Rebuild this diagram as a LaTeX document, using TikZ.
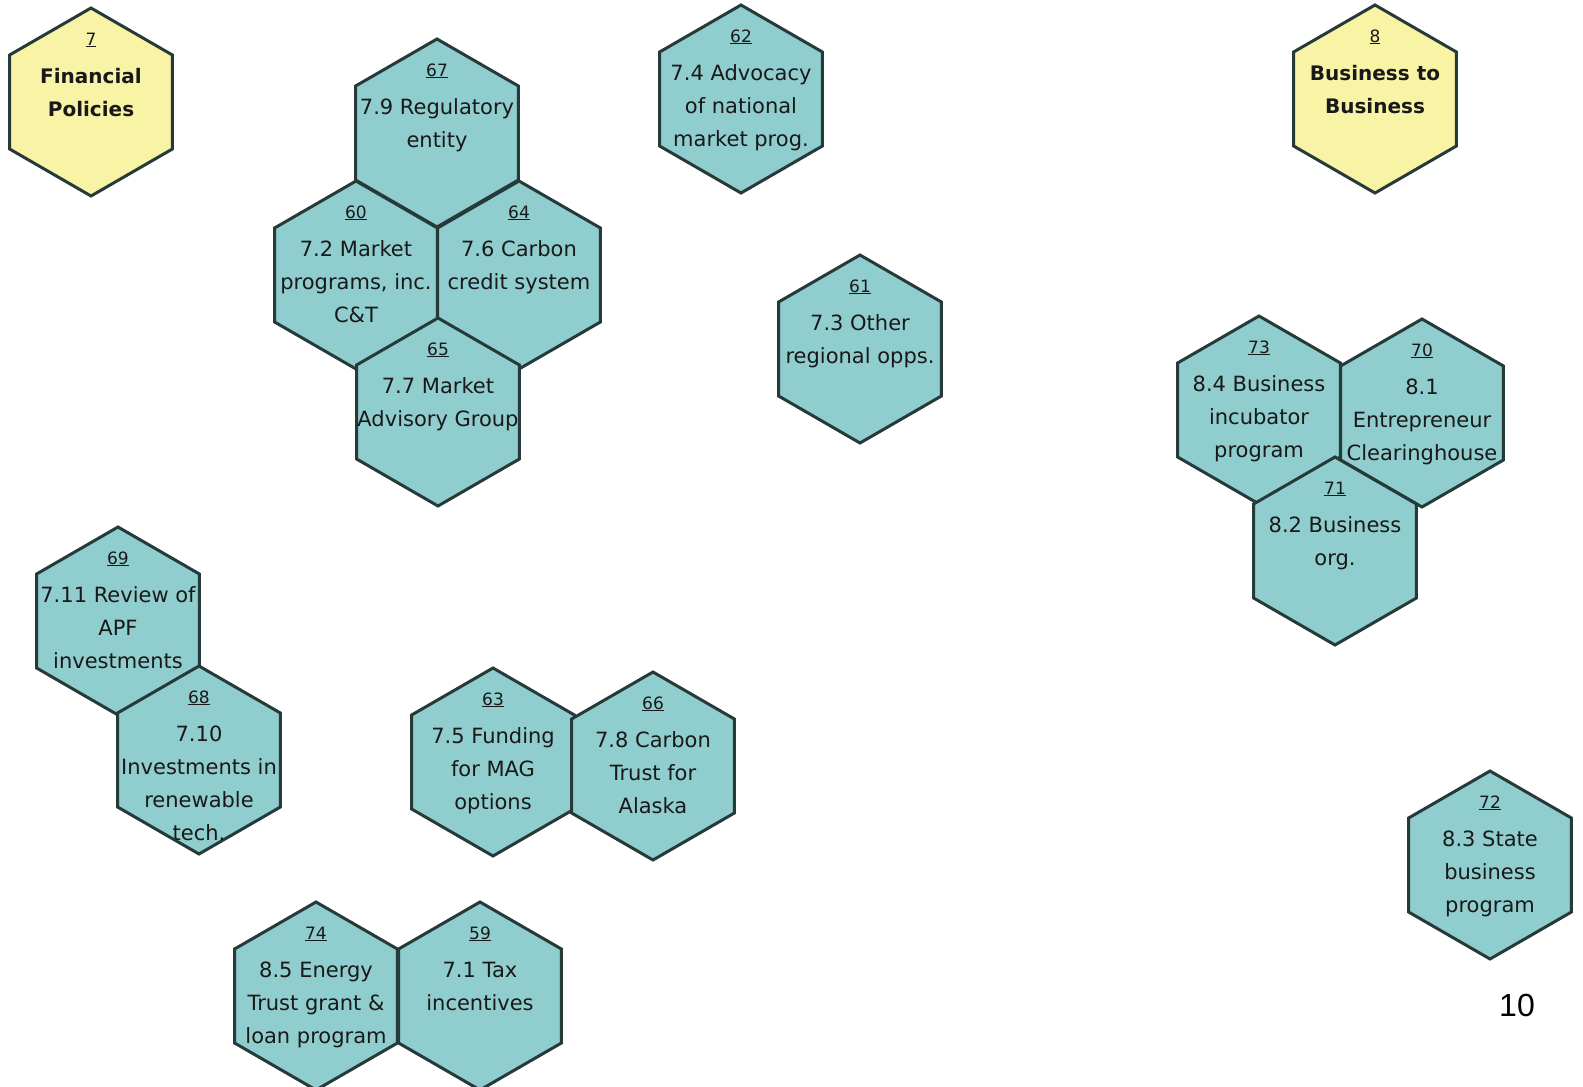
\documentclass[tikz,border=0pt]{standalone}
\usepackage{fontspec}
\setmainfont{DejaVu Sans}
\newfontfamily\arialfont{Liberation Sans}
\definecolor{hexteal}{RGB}{144,205,206}
\definecolor{hexyellow}{RGB}{248,243,165}
\definecolor{hexborder}{RGB}{38,58,58}
\definecolor{hextextcol}{RGB}{25,25,25}
\tikzset{
  hexedge/.style={draw=hexborder, line width=3pt, line join=miter},
  tealcell/.style={fill=hexteal},
  yellowcell/.style={fill=hexyellow},
  numtxt/.style={anchor=base, inner sep=0pt, text=hextextcol, font=\fontsize{17}{20}\selectfont},
  bodytxt/.style={anchor=north, inner sep=0pt, align=center, text=hextextcol, font=\fontsize{21}{33}\selectfont},
  boldtxt/.style={bodytxt, font=\fontsize{20}{33}\selectfont\bfseries},
  pagenum/.style={inner sep=0pt, font=\arialfont\fontsize{32}{36}\selectfont}
}
\newcommand{\hexshape}[3]{% x, y, fill style
  \path[hexedge,#3] (#1,#2) +(90:94) -- +(150:94) -- +(210:94) -- +(270:94) -- +(330:94) -- +(30:94) -- cycle;
}
\newcommand{\hexlabel}[6]{% name, x, y, text style, number, text
  \node[numtxt] (#1-n) at (#2,#3-57) {\underline{#5}};
  \node[#4] (#1) at (#2,#3-42) {\strut #6};
}
\begin{document}
\begin{tikzpicture}[x=1pt,y=-1pt]
\useasboundingbox[fill=white] (0,0) rectangle (1583,1087);
% shapes
\hexshape{91}{102}{yellowcell}
\hexshape{741}{99}{tealcell}
\hexshape{1375}{99}{yellowcell}
\hexshape{437}{133}{tealcell}
\hexshape{356}{275}{tealcell}
\hexshape{519}{275}{tealcell}
\hexshape{438}{412}{tealcell}
\hexshape{860}{349}{tealcell}
\hexshape{1259}{410}{tealcell}
\hexshape{1422}{413}{tealcell}
\hexshape{1335}{551}{tealcell}
\hexshape{118}{621}{tealcell}
\hexshape{199}{760}{tealcell}
\hexshape{493}{762}{tealcell}
\hexshape{653}{766}{tealcell}
\hexshape{1490}{865}{tealcell}
\hexshape{316}{996}{tealcell}
\hexshape{480}{996}{tealcell}
% labels
\hexlabel{h7}{91}{102}{boldtxt}{7}{Financial\\Policies}
\hexlabel{h62}{741}{99}{bodytxt}{62}{7.4 Advocacy\\of national\\market prog.}
\hexlabel{h8}{1375}{99}{boldtxt}{8}{Business to\\Business}
\hexlabel{h67}{437}{133}{bodytxt}{67}{7.9 Regulatory\\entity}
\hexlabel{h60}{356}{275}{bodytxt}{60}{7.2 Market\\programs, inc.\\C\&T}
\hexlabel{h64}{519}{275}{bodytxt}{64}{7.6 Carbon\\credit system}
\hexlabel{h65}{438}{412}{bodytxt}{65}{7.7 Market\\Advisory Group}
\hexlabel{h61}{860}{349}{bodytxt}{61}{7.3 Other\\regional opps.}
\hexlabel{h73}{1259}{410}{bodytxt}{73}{8.4 Business\\incubator\\program}
\hexlabel{h70}{1422}{413}{bodytxt}{70}{8.1\\Entrepreneur\\Clearinghouse}
\hexlabel{h71}{1335}{551}{bodytxt}{71}{8.2 Business\\org.}
\hexlabel{h69}{118}{621}{bodytxt}{69}{7.11 Review of\\APF\\investments}
\hexlabel{h68}{199}{760}{bodytxt}{68}{7.10\\Investments in\\renewable\\tech.}
\hexlabel{h63}{493}{762}{bodytxt}{63}{7.5 Funding\\for MAG\\options}
\hexlabel{h66}{653}{766}{bodytxt}{66}{7.8 Carbon\\Trust for\\Alaska}
\hexlabel{h72}{1490}{865}{bodytxt}{72}{8.3 State\\business\\program}
\hexlabel{h74}{316}{996}{bodytxt}{74}{8.5 Energy\\Trust grant \&\\loan program}
\hexlabel{h59}{480}{996}{bodytxt}{59}{7.1 Tax\\incentives}
\node[pagenum] (pg) at (1517,1005) {10};
\end{tikzpicture}
\end{document}
